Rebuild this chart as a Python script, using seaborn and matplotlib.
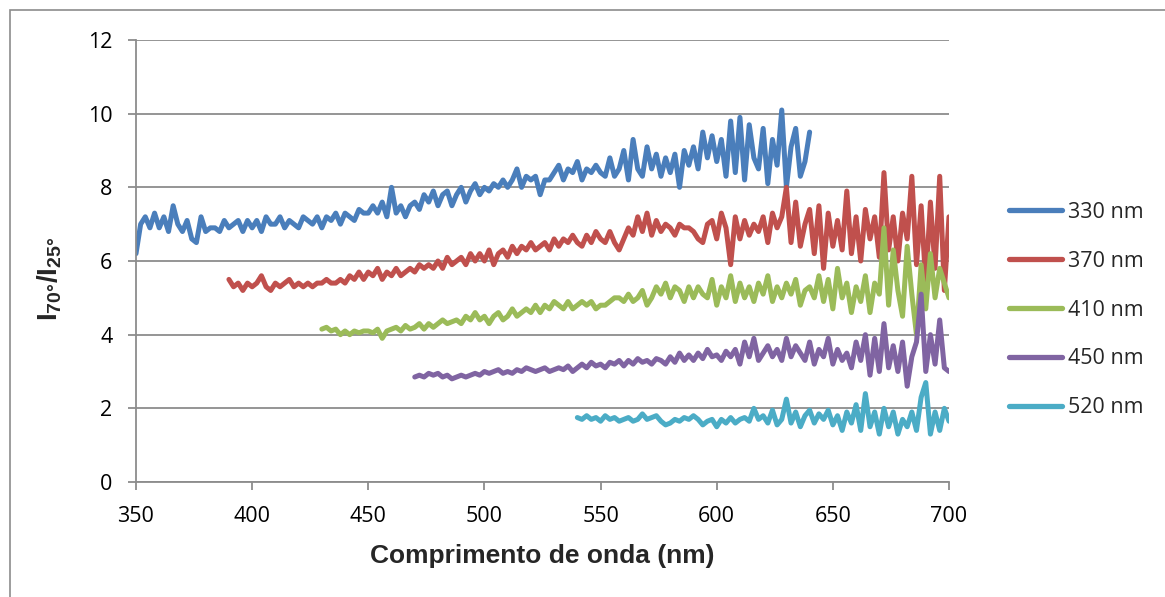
import numpy as np
import pandas as pd
import matplotlib
matplotlib.use("Agg")
import matplotlib.pyplot as plt
from matplotlib.patches import Rectangle
import seaborn as sns

# Intensity ratio I70°/I25° vs wavelength, sampled every 2 nm, one list per excitation
r330 = [6.2, 7.0, 7.2, 6.9, 7.3, 6.9, 7.2, 6.8, 7.5, 7.0, 6.8, 7.1, 6.6, 6.5, 7.2, 6.8, 6.9, 6.9, 6.8, 7.1,
        6.9, 7.0, 7.1, 6.8, 7.1, 6.9, 7.1, 6.8, 7.2, 7.0, 7.0, 7.2, 6.9, 7.1, 7.0, 6.9, 7.2, 7.1, 7.0, 7.2,
        6.9, 7.2, 7.1, 7.3, 7.0, 7.3, 7.2, 7.1, 7.4, 7.3, 7.3, 7.5, 7.3, 7.6, 7.2, 8.0, 7.3, 7.5, 7.2, 7.5,
        7.6, 7.4, 7.8, 7.6, 7.9, 7.5, 7.8, 7.9, 7.5, 7.8, 8.0, 7.6, 7.9, 8.1, 7.8, 8.0, 7.9, 8.1, 8.0, 8.2,
        8.0, 8.2, 8.5, 8.0, 8.3, 8.2, 8.3, 7.8, 8.2, 8.2, 8.4, 8.6, 8.2, 8.5, 8.4, 8.7, 8.2, 8.5, 8.4, 8.6,
        8.4, 8.3, 8.8, 8.3, 8.5, 9.0, 8.2, 9.3, 8.5, 8.3, 9.1, 8.5, 8.9, 8.3, 8.8, 8.4, 8.9, 8.0, 9.0, 8.6,
        9.1, 8.5, 9.5, 8.8, 9.4, 8.7, 9.3, 8.3, 9.8, 8.4, 9.9, 8.2, 9.7, 8.8, 8.5, 9.6, 8.1, 9.3, 8.6, 10.1,
        8.0, 9.1, 9.6, 8.3, 8.7, 9.5]

r370 = [5.5, 5.3, 5.4, 5.2, 5.4, 5.3, 5.4, 5.6, 5.3, 5.2, 5.4, 5.3, 5.4, 5.5, 5.3, 5.4, 5.3, 5.4, 5.3, 5.4,
        5.4, 5.5, 5.4, 5.4, 5.5, 5.4, 5.6, 5.5, 5.7, 5.5, 5.7, 5.6, 5.8, 5.5, 5.7, 5.6, 5.8, 5.6, 5.7, 5.8,
        5.7, 5.9, 5.8, 5.9, 5.8, 6.0, 5.8, 6.1, 5.9, 6.0, 6.1, 5.9, 6.2, 6.0, 6.2, 6.0, 6.3, 5.9, 6.2, 6.3,
        6.1, 6.4, 6.2, 6.4, 6.3, 6.5, 6.3, 6.4, 6.5, 6.3, 6.6, 6.4, 6.6, 6.5, 6.7, 6.5, 6.4, 6.7, 6.5, 6.8,
        6.6, 6.5, 6.8, 6.5, 6.3, 6.6, 6.9, 6.7, 7.2, 6.8, 7.3, 6.7, 7.1, 6.8, 7.0, 6.9, 6.7, 7.0, 6.9, 6.9,
        6.8, 6.6, 6.5, 7.0, 7.1, 6.6, 7.3, 6.9, 5.9, 7.2, 6.6, 7.1, 6.7, 7.0, 6.8, 7.2, 6.5, 7.3, 6.9, 7.2,
        8.0, 6.5, 7.6, 6.4, 7.0, 7.4, 6.2, 7.5, 5.8, 7.3, 6.4, 7.1, 6.3, 7.9, 6.2, 7.2, 6.0, 7.4, 6.6, 7.2,
        6.1, 8.4, 6.3, 7.2, 6.0, 7.3, 6.6, 8.3, 5.9, 7.5, 5.4, 7.6, 5.8, 8.3, 5.2, 7.2]

r410 = [4.15, 4.2, 4.1, 4.15, 4.0, 4.1, 4.0, 4.1, 4.05, 4.1, 4.1, 4.05, 4.15, 3.9, 4.1, 4.15, 4.2, 4.1,
        4.25, 4.15, 4.2, 4.3, 4.15, 4.3, 4.2, 4.3, 4.4, 4.3, 4.35, 4.4, 4.3, 4.5, 4.4, 4.6, 4.4, 4.5, 4.3,
        4.5, 4.6, 4.4, 4.5, 4.7, 4.5, 4.6, 4.7, 4.6, 4.8, 4.6, 4.8, 4.7, 4.9, 4.8, 4.7, 4.9, 4.7, 4.8, 4.9,
        4.8, 4.9, 4.7, 4.8, 4.8, 4.9, 5.0, 5.0, 4.9, 5.1, 4.9, 5.0, 5.2, 4.8, 5.0, 5.3, 5.1, 5.4, 5.0, 5.3,
        5.2, 4.9, 5.3, 5.0, 5.3, 5.1, 5.0, 5.5, 4.8, 5.3, 5.0, 5.6, 4.9, 5.4, 5.0, 5.3, 4.9, 5.4, 5.1, 5.6,
        4.9, 5.3, 5.0, 5.4, 5.1, 5.5, 4.8, 5.2, 5.3, 5.0, 5.6, 4.9, 5.5, 4.7, 5.8, 5.0, 5.4, 4.6, 5.3, 4.9,
        5.6, 4.6, 5.4, 5.1, 6.9, 4.8, 6.3, 5.2, 4.5, 6.4, 5.1, 4.0, 5.9, 4.7, 6.2, 5.0, 5.8, 5.4, 5.0]

r450 = [2.85, 2.9, 2.85, 2.95, 2.9, 2.95, 2.85, 2.9, 2.8, 2.85, 2.9, 2.85, 2.9, 2.95, 2.9, 3.0, 2.95, 3.0,
        3.05, 2.95, 3.0, 2.95, 3.05, 3.0, 3.1, 3.05, 3.0, 3.05, 3.1, 3.0, 3.05, 3.1, 3.05, 3.15, 3.0, 3.1,
        3.2, 3.1, 3.25, 3.15, 3.2, 3.1, 3.25, 3.2, 3.3, 3.15, 3.3, 3.2, 3.35, 3.25, 3.3, 3.2, 3.35, 3.3,
        3.2, 3.4, 3.25, 3.5, 3.3, 3.45, 3.3, 3.5, 3.35, 3.6, 3.4, 3.45, 3.3, 3.55, 3.4, 3.6, 3.2, 3.8, 3.4,
        3.9, 3.3, 3.5, 3.7, 3.4, 3.6, 3.3, 3.9, 3.4, 3.7, 3.5, 3.3, 3.8, 3.2, 3.6, 3.4, 3.9, 3.2, 3.6, 3.3,
        3.5, 3.1, 3.8, 3.3, 4.0, 2.9, 3.9, 3.0, 4.3, 3.1, 3.7, 3.0, 3.8, 2.6, 3.4, 3.8, 5.1, 3.0, 4.0, 3.2,
        4.4, 3.1, 3.0]

r520 = [1.75, 1.7, 1.8, 1.7, 1.75, 1.65, 1.8, 1.7, 1.75, 1.65, 1.7, 1.75, 1.65, 1.7, 1.85, 1.7, 1.75,
        1.8, 1.65, 1.55, 1.6, 1.7, 1.65, 1.75, 1.7, 1.8, 1.7, 1.55, 1.65, 1.7, 1.5, 1.7, 1.6, 1.75, 1.6,
        1.7, 1.75, 1.65, 2.0, 1.7, 1.8, 1.6, 1.95, 1.55, 1.7, 2.25, 1.6, 1.9, 1.5, 1.8, 1.95, 1.6, 1.85,
        1.7, 1.95, 1.55, 1.8, 1.4, 1.9, 1.6, 2.1, 1.4, 2.4, 1.5, 1.9, 1.3, 2.0, 1.5, 1.9, 1.3, 1.7, 1.5,
        1.9, 1.4, 2.3, 2.7, 1.3, 1.9, 1.4, 2.0, 1.65]

series_names = ["330 nm", "370 nm", "410 nm", "450 nm", "520 nm"]
series_ranges = [(350, 640), (390, 700), (430, 700), (470, 700), (540, 700)]
series_values = [r330, r370, r410, r450, r520]
palette = ["#4A7EBB", "#C0504D", "#9BBB59", "#8064A2", "#4BACC6"]

frames = []
for name, (lo, hi), vals in zip(series_names, series_ranges, series_values):
    wl = np.linspace(lo, hi, len(vals))
    frames.append(pd.DataFrame({"wl": wl, "ratio": vals, "serie": name}))
df = pd.concat(frames, ignore_index=True)

sns.set_theme(style="white")
plt.rcParams["font.family"] = ["Open Sans", "DejaVu Sans"]
plt.rcParams["mathtext.fontset"] = "custom"
plt.rcParams["mathtext.rm"] = "Liberation Sans"
plt.rcParams["mathtext.bf"] = "Liberation Sans:bold"

W, H = 1165, 597
fig = plt.figure(figsize=(W / 100, H / 100), dpi=100)
ax = fig.add_axes([136 / W, 1 - 482 / H, (949 - 136) / W, (482 - 40) / H])

sns.lineplot(data=df, x="wl", y="ratio", hue="serie", palette=palette,
             estimator=None, sort=False, linewidth=3.6, ax=ax, legend=True)

ax.set_xlim(350, 700)
ax.set_ylim(0, 12)
ax.set_xticks(np.arange(350, 701, 50))
ax.set_yticks(np.arange(0, 13, 2))
ax.grid(axis="y", color="#8C8C8C", linewidth=1.3)
ax.set_axisbelow(True)
for side in ["top", "right"]:
    ax.spines[side].set_visible(False)
for side in ["left", "bottom"]:
    ax.spines[side].set_color("#8C8C8C")
    ax.spines[side].set_linewidth(1.3)
ax.tick_params(axis="both", which="major", direction="out", length=6, width=1.3,
               color="#8C8C8C", labelsize=15.5, labelcolor="black")
ax.tick_params(axis="x", bottom=True, pad=11)
ax.tick_params(axis="y", left=True, pad=11)

ax.set_xlabel("Comprimento de onda (nm)", fontsize=19, fontweight="bold",
              family="Liberation Sans")
ax.xaxis.set_label_coords(0.5, -(544 - 482) / 442)
ax.set_ylabel(r"$\mathbf{I}_{\mathbf{70°}}\mathbf{/I}_{\mathbf{25°}}$", fontsize=20)
ax.yaxis.set_label_coords(-(136 - 64) / 813, (482 - 279) / 442)

handles, labels = ax.get_legend_handles_labels()
leg = ax.legend(handles, labels, loc="center left", bbox_to_anchor=(1009 / W, 1 - 310 / H),
                bbox_transform=fig.transFigure, frameon=False, fontsize=15.5,
                borderpad=0, borderaxespad=0,
                handlelength=2.45, handletextpad=0.28, labelspacing=1.3)
for line in leg.get_lines():
    line.set_linewidth(3.8)

fig.patches.append(Rectangle((10 / W, -0.01), 1.0, 1 - 10 / H + 0.01,
                             transform=fig.transFigure, fill=False,
                             edgecolor="#8C8C8C", linewidth=1.2))

fig.savefig("out.png", dpi=100, facecolor="white")
